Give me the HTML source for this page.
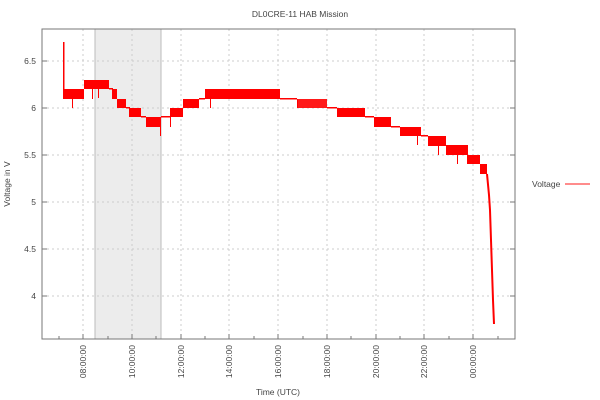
<!DOCTYPE html>
<html><head><style>body{margin:0;background:#fff}svg{display:block;font-family:"Liberation Sans",sans-serif}</style></head><body>
<svg width="600" height="400" viewBox="0 0 600 400" xmlns="http://www.w3.org/2000/svg">
<rect width="600" height="400" fill="#fff"/>
<rect x="95" y="29" width="66" height="310" fill="#ececec" stroke="#bbb" stroke-width="1"/>
<g stroke="#ccc" stroke-dasharray="2,3" stroke-width="1">
<line x1="42" y1="61" x2="515" y2="61"/><line x1="42" y1="108" x2="515" y2="108"/><line x1="42" y1="155" x2="515" y2="155"/><line x1="42" y1="202" x2="515" y2="202"/><line x1="42" y1="249" x2="515" y2="249"/><line x1="42" y1="296" x2="515" y2="296"/>
<line x1="83" y1="29" x2="83" y2="339"/><line x1="132" y1="29" x2="132" y2="339"/><line x1="181" y1="29" x2="181" y2="339"/><line x1="229" y1="29" x2="229" y2="339"/><line x1="278" y1="29" x2="278" y2="339"/><line x1="327" y1="29" x2="327" y2="339"/><line x1="376" y1="29" x2="376" y2="339"/><line x1="424" y1="29" x2="424" y2="339"/><line x1="473" y1="29" x2="473" y2="339"/>
</g>
<g fill="#ff0000">
<rect x="63" y="42" width="1.5" height="57"/>
<rect x="64" y="89" width="20" height="10"/>
<rect x="84" y="80" width="25" height="9"/>
<rect x="109" y="88" width="4" height="1.5"/>
<rect x="112" y="89" width="5" height="10"/>
<rect x="117" y="99" width="9" height="9"/>
<rect x="126" y="107" width="4" height="1.5"/>
<rect x="129" y="108" width="12" height="9"/>
<rect x="141" y="116" width="5" height="1.5"/>
<rect x="146" y="117" width="15" height="10"/>
<rect x="161" y="116" width="9" height="1.5"/>
<rect x="170" y="108" width="13" height="9"/>
<rect x="183" y="99" width="16" height="9"/>
<rect x="199" y="98" width="6" height="1.5"/>
<rect x="205" y="89" width="75" height="10"/>
<rect x="280" y="98" width="17" height="1.5"/>
<rect x="297" y="99" width="30" height="9" opacity="0.9"/>
<rect x="327" y="107" width="10" height="1.5"/>
<rect x="337" y="108" width="28" height="9"/>
<rect x="365" y="116" width="9" height="1.5"/>
<rect x="374" y="117" width="17" height="10"/>
<rect x="391" y="126" width="9" height="1.5"/>
<rect x="400" y="127" width="21" height="9"/>
<rect x="421" y="135" width="7" height="1.5"/>
<rect x="428" y="136" width="18" height="10"/>
<rect x="446" y="145" width="22" height="10"/>
<rect x="467" y="155" width="13" height="9"/>
<rect x="480" y="164" width="7" height="10"/>
</g>
<g stroke="#f00" stroke-width="1">
<line x1="72.5" y1="99" x2="72.5" y2="108"/><line x1="92.5" y1="89" x2="92.5" y2="99"/><line x1="98.5" y1="89" x2="98.5" y2="98"/>
<line x1="130.5" y1="108" x2="130.5" y2="117"/><line x1="160.5" y1="127" x2="160.5" y2="136"/><line x1="170.5" y1="117" x2="170.5" y2="127"/>
<line x1="210.5" y1="99" x2="210.5" y2="108"/><line x1="297.5" y1="99" x2="297.5" y2="108"/><line x1="417.5" y1="136" x2="417.5" y2="145"/>
<line x1="457.5" y1="155" x2="457.5" y2="164"/><line x1="438.5" y1="146" x2="438.5" y2="155"/>
</g>
<polyline points="487,174 489,195 490,210 491,240 492,270 493,300 494,324" fill="none" stroke="#f00" stroke-width="2"/>
<rect x="42" y="29" width="473" height="310" fill="none" stroke="#777" stroke-width="1"/>
<g stroke="#777" stroke-width="1">
<line x1="42" y1="61" x2="47" y2="61"/><line x1="42" y1="108" x2="47" y2="108"/><line x1="42" y1="155" x2="47" y2="155"/><line x1="42" y1="202" x2="47" y2="202"/><line x1="42" y1="249" x2="47" y2="249"/><line x1="42" y1="296" x2="47" y2="296"/>
<line x1="510" y1="61" x2="515" y2="61"/><line x1="510" y1="108" x2="515" y2="108"/><line x1="510" y1="155" x2="515" y2="155"/><line x1="510" y1="202" x2="515" y2="202"/><line x1="510" y1="249" x2="515" y2="249"/><line x1="510" y1="296" x2="515" y2="296"/>
<line x1="83" y1="339" x2="83" y2="334"/><line x1="132" y1="339" x2="132" y2="334"/><line x1="181" y1="339" x2="181" y2="334"/><line x1="229" y1="339" x2="229" y2="334"/><line x1="278" y1="339" x2="278" y2="334"/><line x1="327" y1="339" x2="327" y2="334"/><line x1="376" y1="339" x2="376" y2="334"/><line x1="424" y1="339" x2="424" y2="334"/><line x1="473" y1="339" x2="473" y2="334"/>
<line x1="59" y1="339" x2="59" y2="336"/><line x1="108" y1="339" x2="108" y2="336"/><line x1="156" y1="339" x2="156" y2="336"/><line x1="205" y1="339" x2="205" y2="336"/><line x1="254" y1="339" x2="254" y2="336"/><line x1="303" y1="339" x2="303" y2="336"/><line x1="351" y1="339" x2="351" y2="336"/><line x1="400" y1="339" x2="400" y2="336"/><line x1="449" y1="339" x2="449" y2="336"/><line x1="498" y1="339" x2="498" y2="336"/>
</g>
<g font-size="8.5" fill="#444" text-anchor="end">
<text x="36" y="64">6.5</text><text x="36" y="111">6</text><text x="36" y="158">5.5</text><text x="36" y="205">5</text><text x="36" y="252">4.5</text><text x="36" y="299">4</text>
</g>
<g font-size="8.5" fill="#444" text-anchor="end">
<text transform="translate(86,345) rotate(-90)">08:00:00</text>
<text transform="translate(135,345) rotate(-90)">10:00:00</text>
<text transform="translate(184,345) rotate(-90)">12:00:00</text>
<text transform="translate(232,345) rotate(-90)">14:00:00</text>
<text transform="translate(281,345) rotate(-90)">16:00:00</text>
<text transform="translate(330,345) rotate(-90)">18:00:00</text>
<text transform="translate(379,345) rotate(-90)">20:00:00</text>
<text transform="translate(427,345) rotate(-90)">22:00:00</text>
<text transform="translate(476,345) rotate(-90)">00:00:00</text>
</g>
<text x="300" y="17" font-size="8.5" fill="#444" text-anchor="middle">DL0CRE-11 HAB Mission</text>
<text x="278" y="395" font-size="8.5" fill="#444" text-anchor="middle">Time (UTC)</text>
<text transform="translate(10,184) rotate(-90)" font-size="8.5" fill="#444" text-anchor="middle">Voltage in V</text>
<text x="532" y="187" font-size="8.5" fill="#444">Voltage</text>
<line x1="565" y1="184" x2="590" y2="184" stroke="#f66" stroke-width="1.5"/>
</svg>
</body></html>
